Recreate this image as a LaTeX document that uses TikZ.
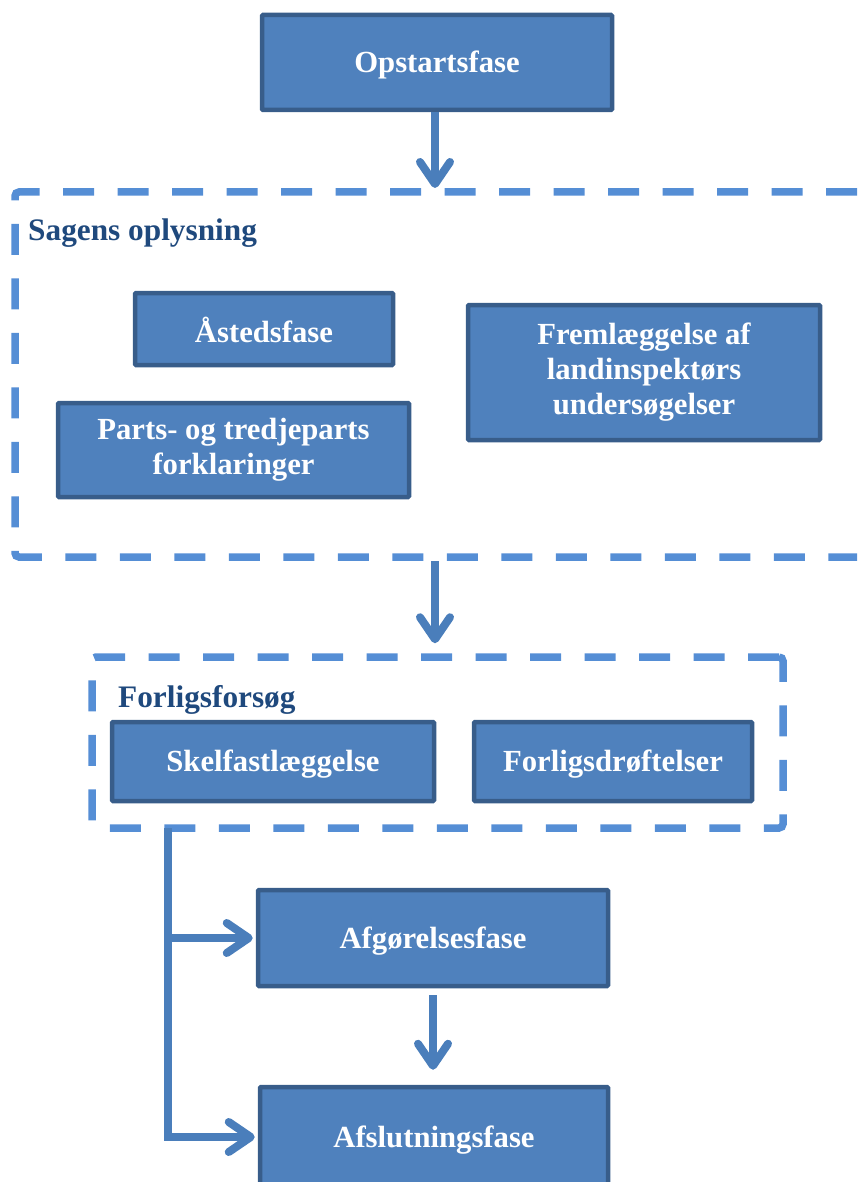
\documentclass[tikz,border=0pt]{standalone}
\usepackage{fontspec}
\setmainfont{Liberation Serif}
\usepackage{xcolor}
\usetikzlibrary{arrows.meta}
\definecolor{boxfill}{HTML}{4F81BD}
\definecolor{boxline}{HTML}{385D8A}
\definecolor{flowblue}{HTML}{4A7EBB}
\definecolor{dashblue}{HTML}{558ED5}
\definecolor{titleblue}{HTML}{1F497D}
\tikzset{
  phase/.style={draw=boxline, fill=boxfill, line width=4.5pt, rounded corners=1pt,
    text=white, font=\bfseries\fontsize{30.7}{35}\selectfont, align=center, inner sep=0pt,
    execute at begin node=\rule{0pt}{27pt}},
  flow/.style={draw=flowblue, line width=8pt, -{Straight Barb[length=22pt, width=30pt, round]}},
  group/.style={draw=dashblue, line width=7.5pt, dash pattern=on 31pt off 23.5pt, rounded corners=4pt},
  grouptitle/.style={text=titleblue, font=\bfseries\fontsize{31.3}{35}\selectfont, anchor=west, inner sep=0pt}
}

\begin{document}
\begin{tikzpicture}[x=1pt, y=-1pt]
  \useasboundingbox (0,0) rectangle (857,1182);
  % faser
  \node[phase, minimum width=350pt, minimum height=95pt] (start) at (437,62.5) {Opstartsfase};
  \node[phase, minimum width=258pt, minimum height=72pt] (asted) at (264,329) {Åstedsfase};
  \node[phase, minimum width=351pt, minimum height=94pt] (parts) at (233.5,450) {Parts- og tredjeparts\\forklaringer};
  \node[phase, minimum width=352pt, minimum height=135pt] (freml) at (644,372.5) {Fremlæggelse af\\landinspektørs\\undersøgelser};
  \node[phase, minimum width=322pt, minimum height=79pt] (skel) at (273,761.5) {Skelfastlæggelse};
  \node[phase, minimum width=278pt, minimum height=79pt] (drof) at (613,761.5) {Forligsdrøftelser};
  \node[phase, minimum width=350pt, minimum height=96pt] (afgor) at (433,938) {Afgørelsesfase};
  \node[phase, minimum width=348pt, minimum height=100pt] (afslut) at (434,1137) {Afslutningsfase};
  % grupper
  \draw[group] (857,192) -- (15,192) -- (15,557) -- (857,557);
  \coordinate (sagtop) at (435,192);
  \coordinate (sagbot) at (435,557);
  \node[grouptitle] (sagtitle) at (28,233) {Sagens oplysning};
  \node[group, minimum width=691pt, minimum height=171pt] (forlig) at (437.5,742.5) {};
  \node[grouptitle] (forligtitle) at (118,700) {Forligsforsøg};
  % pile
  \draw[flow, shorten >=4pt] (start.south -| sagtop) -- (sagtop);
  \draw[flow, shorten <=4pt, shorten >=10pt] (sagbot) -- (sagbot |- forlig.north);
  \draw[flow, shorten <=7pt, shorten >=15pt] (afgor.south) -- (afslut.north -| afgor.south);
  \coordinate (split) at (168,828);
  \draw[flow, shorten >=3pt] (split) |- (afslut.west);
  \draw[flow, shorten >=3pt] (split |- afgor.west) -- (afgor.west);
\end{tikzpicture}
\end{document}
